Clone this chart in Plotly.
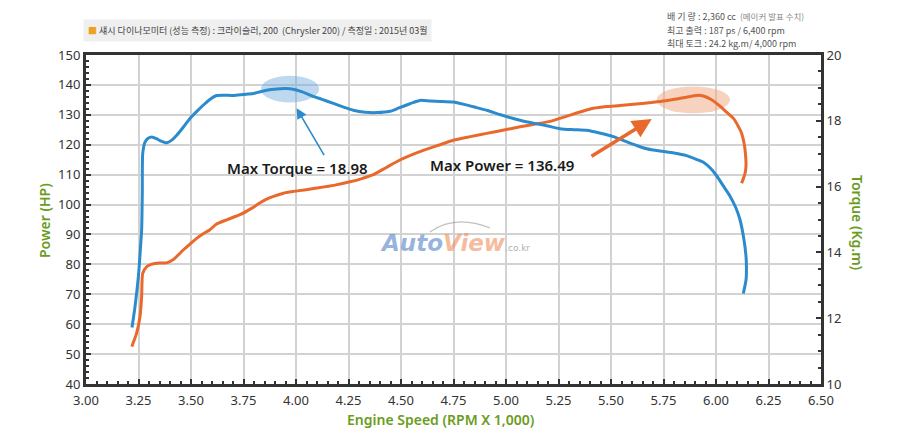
import plotly.graph_objects as go

# ---------------- data ----------------
rpm_torque = [3.219, 3.233, 3.250, 3.260, 3.265, 3.268, 3.270, 3.281, 3.296, 3.313,
              3.335, 3.352, 3.384, 3.410, 3.432, 3.465, 3.495, 3.530, 3.559, 3.590,
              3.622, 3.660, 3.701, 3.749, 3.797, 3.860, 3.910, 3.950, 3.987, 4.030,
              4.067, 4.120, 4.178, 4.230, 4.273, 4.330, 4.384, 4.448, 4.490, 4.527,
              4.560, 4.590, 4.640, 4.686, 4.749, 4.800, 4.860, 4.908, 4.970, 5.035,
              5.090, 5.146, 5.200, 5.257, 5.320, 5.384, 5.450, 5.511, 5.560, 5.622,
              5.670, 5.733, 5.800, 5.860, 5.910, 5.940, 5.975, 6.003, 6.035, 6.067,
              6.095, 6.114, 6.133, 6.143, 6.145, 6.143, 6.130]
torque_kgm = [11.72, 12.33, 13.30, 14.20, 14.69, 15.80, 17.00, 17.35, 17.47, 17.51,
              17.46, 17.40, 17.33, 17.42, 17.56, 17.82, 18.07, 18.30, 18.48, 18.65,
              18.77, 18.78, 18.77, 18.80, 18.83, 18.93, 18.97, 18.98, 18.96, 18.88,
              18.78, 18.66, 18.53, 18.41, 18.32, 18.26, 18.25, 18.29, 18.39, 18.48,
              18.56, 18.62, 18.60, 18.59, 18.57, 18.50, 18.40, 18.32, 18.19, 18.07,
              17.98, 17.91, 17.84, 17.76, 17.73, 17.71, 17.62, 17.52, 17.40, 17.25,
              17.15, 17.08, 17.02, 16.94, 16.82, 16.74, 16.55, 16.33, 16.02, 15.71,
              15.35, 15.00, 14.39, 13.87, 13.50, 13.16, 12.75]

rpm_power = [3.218, 3.241, 3.257, 3.265, 3.270, 3.289, 3.310, 3.337, 3.384, 3.416,
             3.440, 3.463, 3.495, 3.527, 3.560, 3.590, 3.620, 3.670, 3.733, 3.790,
             3.829, 3.860, 3.900, 3.940, 3.990, 4.040, 4.099, 4.180, 4.257, 4.310,
             4.368, 4.430, 4.495, 4.590, 4.686, 4.749, 4.830, 4.908, 4.990, 5.067,
             5.140, 5.210, 5.260, 5.305, 5.360, 5.416, 5.480, 5.543, 5.620, 5.702,
             5.760, 5.813, 5.860, 5.908, 5.940, 5.975, 6.019, 6.050, 6.083, 6.105,
             6.122, 6.135, 6.140, 6.143, 6.140, 6.130, 6.122]
power_hp = [52.5, 57.0, 62.5, 69.2, 77.0, 79.2, 80.0, 80.4, 80.5, 81.6,
            83.2, 84.8, 86.8, 88.7, 90.3, 91.6, 93.4, 94.9, 96.6, 98.8,
            100.6, 101.8, 102.9, 103.8, 104.4, 104.9, 105.5, 106.4, 107.6, 108.6,
            110.0, 112.4, 114.9, 117.7, 120.0, 121.5, 122.7, 123.8, 124.9, 126.0,
            126.9, 127.8, 128.9, 129.9, 131.1, 132.2, 132.8, 133.1, 133.6, 134.2,
            134.7, 135.3, 135.9, 136.49, 136.3, 135.2, 132.9, 130.9, 128.8, 126.3,
            123.8, 120.0, 117.1, 113.5, 111.0, 108.6, 107.1]

max_torque_label = "Max Torque = 18.98"
max_power_label = "Max Power = 136.49"
title_text = "섀시 다이나모미터 (성능 측정) : 크라이슬러, 200  (Chrysler 200) / 측정일 : 2015년 03월"
spec_lines = ["배 기 량 : 2,360 cc  <span style='color:#888;font-size:8.5px'>(메이커 발표 수치)</span>",
              "최고 출력 : 187 ps / 6,400 rpm",
              "최대 토크 : 24.2 kg.m/ 4,000 rpm"]

# ---------------- style ----------------
BLUE = "#2b8bcc"
ORANGE = "#e8692b"
GREEN = "#6a9c22"
GRID = "#d2d2d2"
FRAME = "#333333"
FONT = "Noto Sans, Noto Sans CJK KR, sans-serif"

# page body has an 8px margin; plot area targeted at x 86..821, y 55..384 of the window
OFF = 8
L, R, T, B = 86, 821, 55, 384


def px(xp):
    return (xp - L) / (R - L)


def py(yp):
    return (B - yp) / (B - T)


fig = go.Figure()
fig.add_trace(go.Scatter(x=rpm_power, y=power_hp, mode="lines",
                         line=dict(color=ORANGE, width=3, shape="spline", smoothing=0.6),
                         yaxis="y", hoverinfo="skip"))
fig.add_trace(go.Scatter(x=rpm_torque, y=torque_kgm, mode="lines",
                         line=dict(color=BLUE, width=3, shape="spline", smoothing=0.6),
                         yaxis="y2", hoverinfo="skip"))

tickfont = dict(family=FONT, size=13, color="#333")

W, H = 900 - 2 * OFF, 436 - 2 * OFF
fig.update_layout(
    width=W, height=H,
    margin=dict(l=L - OFF, r=W + OFF - R, t=T - OFF, b=H + OFF - B),
    paper_bgcolor="white", plot_bgcolor="white",
    showlegend=False,
    font=dict(family=FONT),
    xaxis=dict(range=[3.0, 6.5], dtick=0.25, tick0=3.0, tickformat=".2f",
               showgrid=True, gridcolor=GRID, gridwidth=1.5,
               showline=True, linecolor=FRAME, linewidth=3, mirror=True,
               ticks="inside", ticklen=5, tickcolor=FRAME, tickwidth=1.5,
               ticklabelstandoff=2,
               minor=dict(dtick=0.05, ticks="inside", ticklen=3, tickcolor=FRAME, showgrid=False),
               tickfont=tickfont, zeroline=False, fixedrange=True),
    yaxis=dict(range=[40, 150], dtick=10, tick0=40,
               showgrid=True, gridcolor=GRID, gridwidth=1.5,
               showline=True, linecolor=FRAME, linewidth=3, mirror=True,
               ticks="inside", ticklen=5, tickcolor=FRAME, tickwidth=1.5,
               minor=dict(dtick=2, ticks="inside", ticklen=3, tickcolor=FRAME, showgrid=False),
               tickfont=tickfont, zeroline=False, fixedrange=True),
    yaxis2=dict(range=[10, 20], dtick=2, tick0=10, overlaying="y", side="right",
                showgrid=False, showline=True, linecolor=FRAME, linewidth=3,
                ticks="inside", ticklen=5, tickcolor=FRAME, tickwidth=1.5,
                minor=dict(dtick=0.5, ticks="inside", ticklen=3, tickcolor=FRAME),
                tickfont=tickfont, zeroline=False, fixedrange=True),
)

# highlight ellipses
fig.add_shape(type="circle", xref="x", yref="y", x0=3.833, x1=4.110, y0=134.1, y1=143.1,
              fillcolor="rgba(110,170,220,0.45)", line=dict(width=0), layer="between")
fig.add_shape(type="circle", xref="x", yref="y", x0=5.717, x1=6.067, y0=130.5, y1=139.5,
              fillcolor="rgba(240,165,125,0.5)", line=dict(width=0), layer="between")

# arrows
fig.add_annotation(x=4.003, y=132.2, ax=4.138, ay=116.0, xref="x", yref="y",
                   axref="x", ayref="y", text="", showarrow=True,
                   arrowhead=2, arrowsize=1.3, arrowwidth=1.6, arrowcolor=BLUE)
fig.add_annotation(x=5.694, y=128.6, ax=5.40, ay=115.8, xref="x", yref="y",
                   axref="x", ayref="y", text="", showarrow=True,
                   arrowhead=2, arrowsize=1.1, arrowwidth=3.5, arrowcolor=ORANGE)

# labels
fig.add_annotation(x=4.005, y=112.2, xref="x", yref="y", text=max_torque_label,
                   xanchor="center", yanchor="middle", showarrow=False,
                   font=dict(family=FONT, size=15, color="#1a1a1a", weight=600))
fig.add_annotation(x=4.979, y=113.2, xref="x", yref="y", text=max_power_label,
                   xanchor="center", yanchor="middle", showarrow=False,
                   font=dict(family=FONT, size=15, color="#1a1a1a", weight=600))

# watermark logo
fig.add_annotation(x=4.757, y=87.3, xref="x", yref="y", showarrow=False,
                   xanchor="center", yanchor="middle",
                   text="<b><i><span style='color:rgba(80,130,200,0.6)'>Auto</span>"
                        "<span style='color:rgba(240,140,90,0.6)'>View</span></i></b>"
                        "<span style='color:#b0b0b0;font-size:9px'>.co.kr</span>",
                   font=dict(family="DejaVu Sans, sans-serif", size=23))
fig.add_shape(type="path", xref="paper", yref="paper",
              path=f"M {px(430):.3f} {py(232):.3f} Q {px(455):.3f} {py(214):.3f} {px(490):.3f} {py(228):.3f}",
              line=dict(color="rgba(150,150,150,0.6)", width=1.2))

# axis titles
fig.add_annotation(x=px(440), y=py(419), xref="paper", yref="paper",
                   xanchor="center", yanchor="middle",
                   text="Engine Speed (RPM X 1,000)", showarrow=False,
                   font=dict(family=FONT, size=14, color=GREEN, weight=600))
fig.add_annotation(x=px(44), y=py(221), xref="paper", yref="paper",
                   xanchor="center", yanchor="middle",
                   text="Power (HP)", showarrow=False, textangle=-90,
                   font=dict(family=FONT, size=14, color=GREEN, weight=600))
fig.add_annotation(x=px(858), y=py(222), xref="paper", yref="paper",
                   xanchor="center", yanchor="middle",
                   text="Torque (Kg.m)", showarrow=False, textangle=90,
                   font=dict(family=FONT, size=14, color=GREEN, weight=600))

# title box
fig.add_annotation(x=px(83), y=py(31), xref="paper", yref="paper",
                   xanchor="left", yanchor="middle", showarrow=False,
                   text="<span style='color:#f0a020'>■</span> " + title_text,
                   bgcolor="#efefef", borderpad=4,
                   font=dict(family="Noto Sans CJK KR, sans-serif", size=9, color="#444"))

# specs block
for i, line in enumerate(spec_lines):
    fig.add_annotation(x=px(665), y=py(17 + 13.5 * i),
                       xref="paper", yref="paper", xanchor="left", yanchor="middle",
                       showarrow=False, text=line,
                       font=dict(family="Noto Sans CJK KR, sans-serif", size=9, color="#555"))

fig.write_html("out.html")
